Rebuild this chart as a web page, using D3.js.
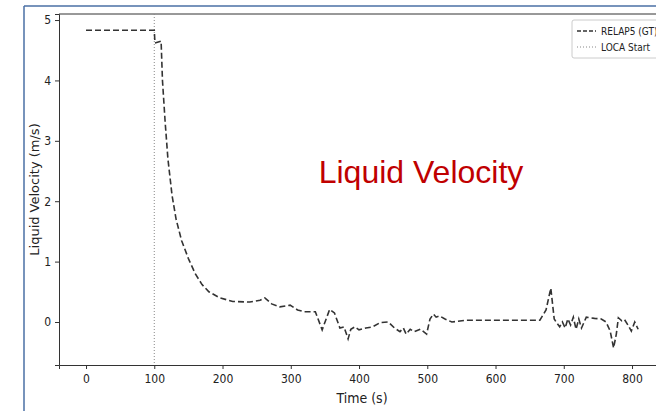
<!DOCTYPE html>
<html><head><meta charset="utf-8">
<script src="https://cdn.jsdelivr.net/npm/d3@7"></script>
<style>body{margin:0;background:#fff}</style>
</head><body>
<script>
var times = [0,100,101,110,112,116,120,126,132,140,150,160,170,180,196,215,240,255,262,272,284,299,310,320,336,346,357,364,372,378,384,388,394,400,410,420,431,443,452,460,465,469,475,481,490,499,504,509,513,518,526,536,558,600,665,674,681,686,690,694,698,702,706,710,714,718,722,726,733,745,755,762,768,773,777,780,785,789,794,799,804,809];
var velocity = [4.83,4.83,4.62,4.65,4.0,3.3,2.7,2.1,1.7,1.35,1.05,0.8,0.62,0.5,0.4,0.34,0.33,0.36,0.4,0.3,0.25,0.28,0.2,0.17,0.17,-0.13,0.21,0.15,-0.1,-0.08,-0.28,-0.12,-0.08,-0.13,-0.1,-0.08,-0.01,0,-0.1,-0.16,-0.1,-0.2,-0.12,-0.16,-0.12,-0.2,0.05,0.13,0.08,0.1,0.05,0,0.03,0.03,0.03,0.2,0.56,0.05,-0.02,-0.08,0,-0.1,0.05,-0.05,0.08,-0.12,0.05,-0.1,0.08,0.06,0.05,0,-0.15,-0.43,-0.2,0.07,0.02,0.04,-0.05,-0.15,0,-0.12];
var xTicks = [0,100,200,300,400,500,600,700,800];
var yTicks = [0,1,2,3,4,5];
var locaTime = 100;

var W = 656, H = 411;
var svg = d3.select('body').append('svg').attr('width', W).attr('height', H);
// slide frame
svg.append('line').attr('x1',24).attr('y1',6).attr('x2',W).attr('y2',6).attr('stroke','#4a6fa5').attr('stroke-width',1.5);
svg.append('line').attr('x1',24).attr('y1',6).attr('x2',24).attr('y2',H).attr('stroke','#4a6fa5').attr('stroke-width',1.5);

var pLeft = 59, pTop = 14, pRight = 660, pBottom = 365;
var x = d3.scaleLinear().domain([-39.6, 841]).range([pLeft, pRight]);
var y = d3.scaleLinear().domain([-0.712, 5.1]).range([pBottom, pTop]);
var font = '"DejaVu Sans Condensed", "DejaVu Sans", sans-serif';

var gx = svg.append('g').attr('transform','translate(0,'+pBottom+')')
  .call(d3.axisBottom(x).tickValues(xTicks).tickFormat(d3.format('d')).tickSize(4).tickPadding(5));
var gy = svg.append('g').attr('transform','translate('+pLeft+',0)')
  .call(d3.axisLeft(y).tickValues(yTicks).tickFormat(d3.format('d')).tickSize(4).tickPadding(4));
[gx, gy].forEach(function(g){
  g.selectAll('text').attr('font-family', font).attr('font-size', 12).attr('fill','#222');
  g.selectAll('line').attr('stroke','#333');
  g.select('.domain').attr('stroke','#333');
});
svg.append('line').attr('x1',pLeft).attr('x2',pRight).attr('y1',pTop).attr('y2',pTop).attr('stroke','#333');

svg.append('line').attr('x1',x(locaTime)).attr('x2',x(locaTime)).attr('y1',pTop).attr('y2',pBottom)
  .attr('stroke','#888').attr('stroke-width',1).attr('stroke-dasharray','1,2');

var line = d3.line().x(function(d,i){return x(times[i]);}).y(function(d){return y(d);});
svg.append('path').datum(velocity).attr('d', line).attr('fill','none')
  .attr('stroke','#333').attr('stroke-width',1.6).attr('stroke-dasharray','6,3');

svg.append('text').attr('x',362).attr('y',403).attr('text-anchor','middle')
  .attr('font-family',font).attr('font-size',14).attr('fill','#222').text('Time (s)');
svg.append('text').attr('transform','translate(39,'+((pTop+pBottom)/2)+') rotate(-90)').attr('text-anchor','middle')
  .attr('font-family','"DejaVu Sans", sans-serif').attr('font-size',13).attr('fill','#222').text('Liquid Velocity (m/s)');

svg.append('text').attr('x',421).attr('y',183).attr('text-anchor','middle')
  .attr('font-family','"Liberation Sans", Arial, sans-serif').attr('font-size',32).attr('fill','#c00000').text('Liquid Velocity');

// legend
var lg = svg.append('g').attr('transform','translate(572,20)');
lg.append('rect').attr('width',90).attr('height',38).attr('rx',2).attr('fill','#fff').attr('stroke','#ccc');
lg.append('line').attr('x1',5).attr('x2',24).attr('y1',11).attr('y2',11).attr('stroke','#333').attr('stroke-width',1.6).attr('stroke-dasharray','4,2');
lg.append('line').attr('x1',5).attr('x2',24).attr('y1',27).attr('y2',27).attr('stroke','#888').attr('stroke-dasharray','1,2');
lg.append('text').attr('x',29).attr('y',15).attr('font-family',font).attr('font-size',10).attr('fill','#222').text('RELAP5 (GT)');
lg.append('text').attr('x',29).attr('y',31).attr('font-family',font).attr('font-size',10).attr('fill','#222').text('LOCA Start');
</script>
</body></html>
